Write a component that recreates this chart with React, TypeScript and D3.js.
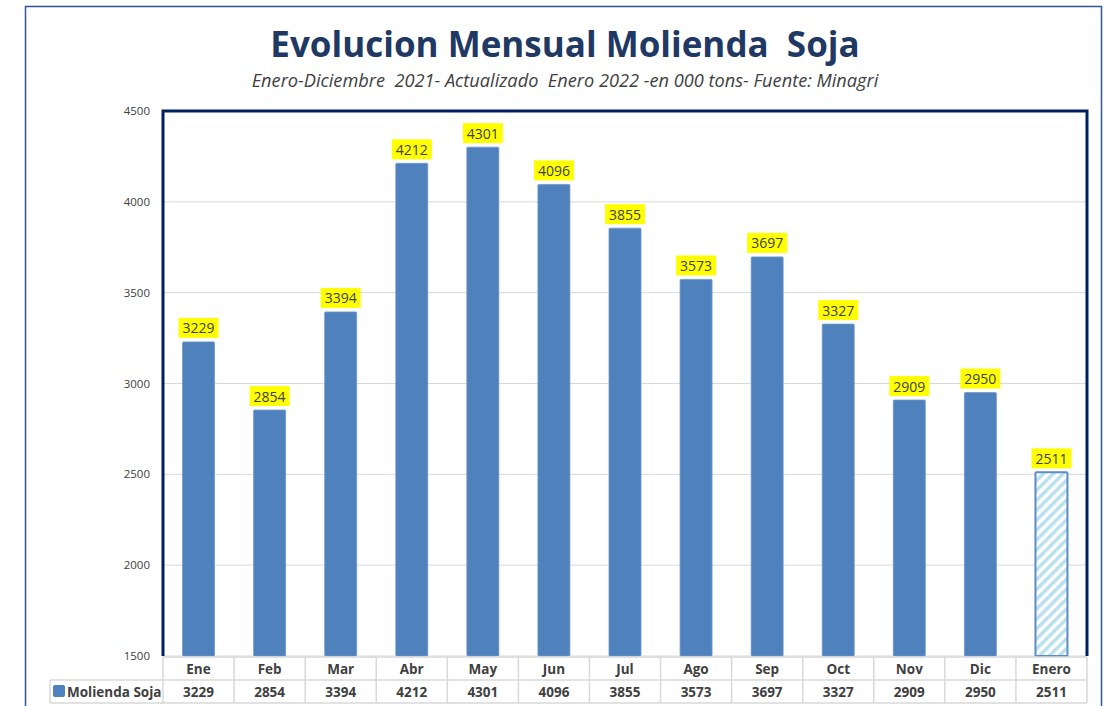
import React from "react";
import * as d3 from "d3";

const categories = ["Ene", "Feb", "Mar", "Abr", "May", "Jun", "Jul", "Ago", "Sep", "Oct", "Nov", "Dic", "Enero"];
const values = [3229, 2854, 3394, 4212, 4301, 4096, 3855, 3573, 3697, 3327, 2909, 2950, 2511];
const yTicks = [1500, 2000, 2500, 3000, 3500, 4000, 4500];
const seriesName = "Molienda Soja";
const title = "Evolucion Mensual Molienda  Soja";
const subtitle = "Enero-Diciembre  2021- Actualizado  Enero 2022 -en 000 tons- Fuente: Minagri";

const W = 1104;
const H = 706;
const plotL = 163, plotR = 1087, plotT = 111, plotB = 656;
const FONT = "'Open Sans', 'Noto Sans', sans-serif";

export default function App() {
  const x = d3.scaleBand<string>().domain(categories).range([plotL, plotR]).paddingInner(0.55).paddingOuter(0.275);
  const y = d3.scaleLinear().domain([1500, 4500]).range([plotB, plotT]);
  const step = (plotR - plotL) / categories.length;
  const row1T = 657, row1B = 680, row2B = 703;
  const lastIdx = categories.length - 1;
  return (
    <div style={{ position: "absolute", left: 0, top: 0 }}>
      <svg width={W} height={H} style={{ display: "block" }}>
        <defs>
          <pattern id="hatch" patternUnits="userSpaceOnUse" width="7" height="7" patternTransform="rotate(45)">
            <rect width="7" height="7" fill="#ffffff" />
            <rect width="3.5" height="7" fill="#b9e0ee" />
          </pattern>
        </defs>
        <rect x={0} y={0} width={W} height={H} fill="#fff" />
        <rect x={25.5} y={6.5} width={1076} height={720} fill="none" stroke="#2f5597" strokeWidth={1.5} />
        <text x={565} y={57} textAnchor="middle" fontFamily={FONT} fontWeight={700} fontSize={35} fill="#1f3864" style={{ whiteSpace: "pre" }}>{title}</text>
        <text x={565} y={87} textAnchor="middle" fontFamily={FONT} fontStyle="italic" fontSize={18.2} fill="#404040" style={{ whiteSpace: "pre" }}>{subtitle}</text>
        {yTicks.map((t) => (
          <line key={"g" + t} x1={plotL} x2={plotR} y1={y(t)} y2={y(t)} stroke="#d9d9d9" strokeWidth={1} />
        ))}
        {yTicks.map((t) => (
          <text key={"t" + t} x={150} y={y(t) + 4} textAnchor="end" fontFamily={FONT} fontSize={11.5} fill="#404040">{t}</text>
        ))}
        {values.map((v, i) => {
          const c = categories[i];
          const bx = x(c)!;
          const bw = x.bandwidth();
          const isLast = i === lastIdx;
          return (
            <g key={c}>
              <rect x={bx} y={y(v)} width={bw} height={plotB - y(v)} rx={1}
                fill={isLast ? "url(#hatch)" : "#4f81bd"}
                stroke={isLast ? "#5b8cc8" : "#6e97cb"} strokeWidth={isLast ? 2 : 0.8} />
              <rect x={bx + bw / 2 - 20} y={y(v) - 24} width={40} height={20} fill="#ffff00" />
              <text x={bx + bw / 2} y={y(v) - 8.5} textAnchor="middle" fontFamily={FONT} fontSize={14} fill="#404040">{v}</text>
            </g>
          );
        })}
        <path d={`M${plotL},${plotB} V${plotT} H${plotR} V${plotB}`} fill="none" stroke="#002060" strokeWidth={3} />
        <g stroke="#d9d9d9" strokeWidth={1.5} fill="none">
          <line x1={plotL} x2={plotR} y1={row1T} y2={row1T} />
          <line x1={50} x2={plotR} y1={row1B} y2={row1B} />
          <line x1={50} x2={plotR} y1={row2B} y2={row2B} />
          <line x1={50} x2={50} y1={row1B} y2={row2B} />
          {d3.range(categories.length + 1).map((i) => (
            <line key={"v" + i} x1={plotL + i * step} x2={plotL + i * step} y1={row1T} y2={row2B} />
          ))}
        </g>
        {categories.map((c, i) => (
          <g key={"tc" + c}>
            <text x={x(c)! + x.bandwidth() / 2} y={674} textAnchor="middle" fontFamily={FONT} fontWeight={700} fontSize={13.5} fill="#404040">{c}</text>
            <text x={x(c)! + x.bandwidth() / 2} y={697} textAnchor="middle" fontFamily={FONT} fontWeight={700} fontSize={13.5} fill="#404040">{values[i]}</text>
          </g>
        ))}
        <rect x={53} y={685} width={12} height={12} rx={2} fill="#4f81bd" />
        <text x={67} y={697} fontFamily={FONT} fontWeight={700} fontSize={13.5} fill="#404040">{seriesName}</text>
      </svg>
    </div>
  );
}
